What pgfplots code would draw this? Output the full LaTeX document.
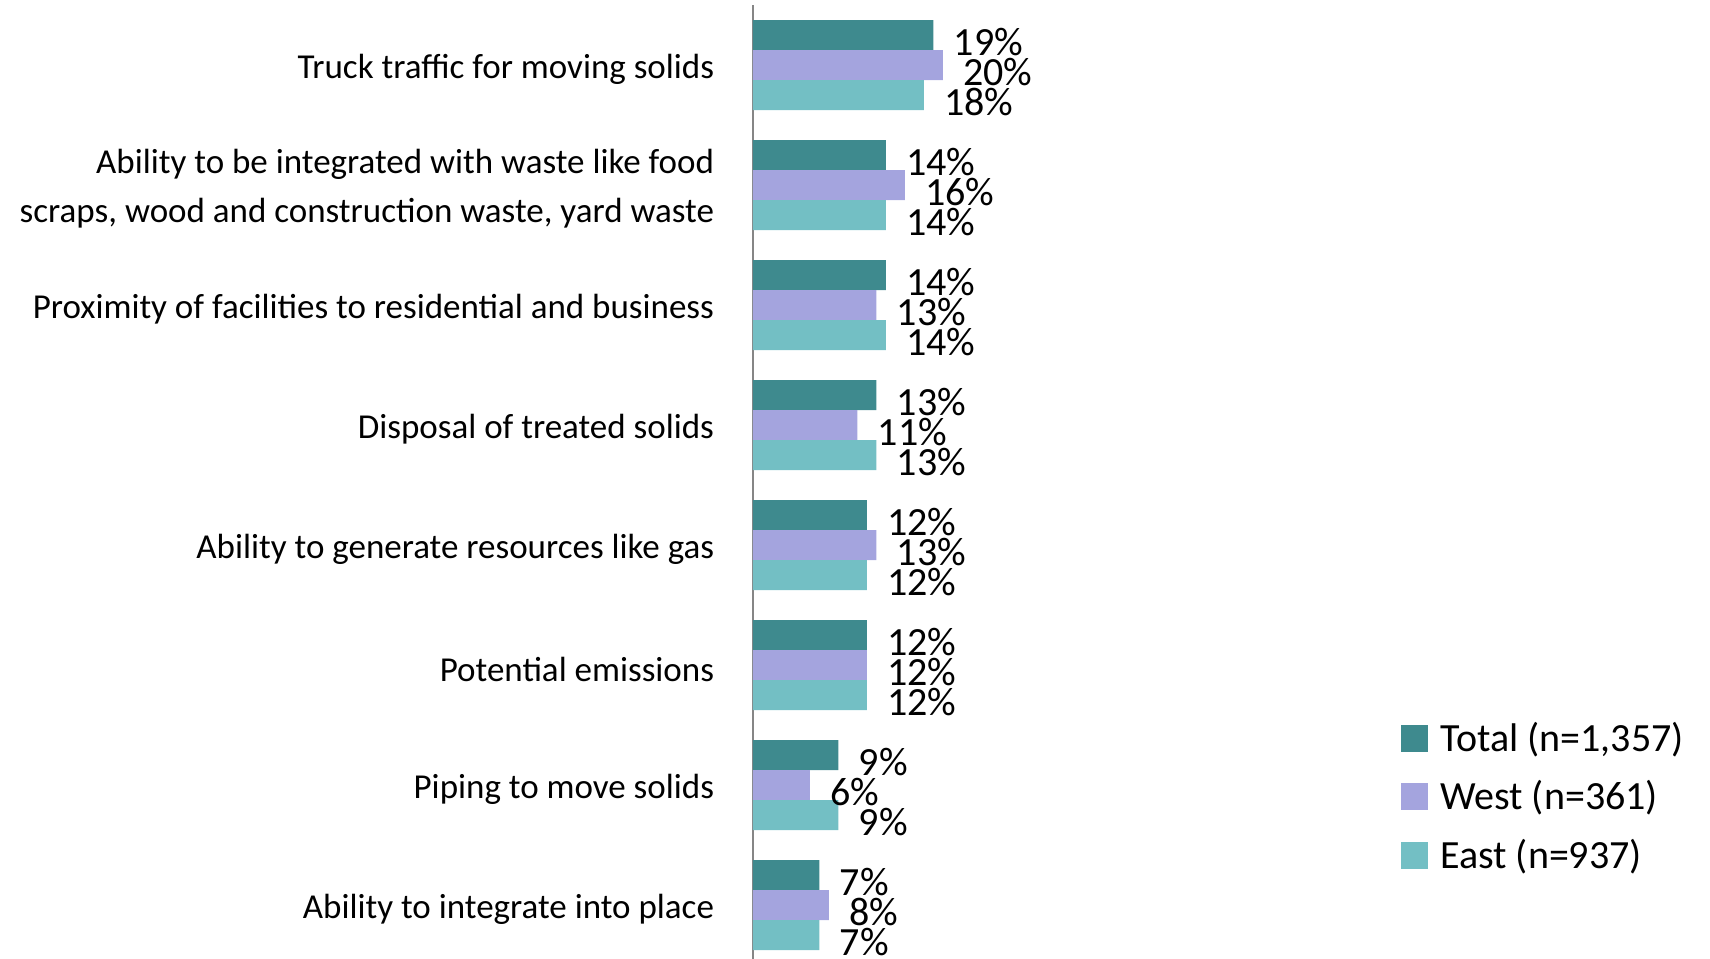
\documentclass[border=0pt]{standalone}
\usepackage{fontspec}
\setmainfont{Carlito}
\usepackage{pgfplots}
\pgfplotsset{compat=1.18}

\definecolor{cTotal}{HTML}{3E8A8E}
\definecolor{cWest}{HTML}{A4A4DE}
\definecolor{cEast}{HTML}{73BFC4}

\pgfplotsset{
  sq legend/.style={legend image code/.code={%
    \fill[##1] (0pt,-6.75pt) rectangle (13.5pt,6.75pt);}},
}

\begin{document}
\begin{tikzpicture}
\path[use as bounding box] (0,0) rectangle (855pt,479.5pt);
\begin{axis}[
    at={(376.5pt,477pt)}, anchor=north west,
    x=4.75pt, y=60pt,
    xmin=0, xmax=22,
    ymin=-0.5, ymax=7.45,
    y dir=reverse,
    xbar=0pt,
    bar width=15pt,
    clip=false,
    axis x line=none,
    axis y line*=left,
    y axis line style={draw=gray!95, line width=1pt, -},
    ytick={0,...,7},
    ytick style={draw=none},
    yticklabels={
      Truck traffic for moving solids,
      {Ability to be integrated with waste like food\\scraps, wood and construction waste, yard waste},
      Proximity of facilities to residential and business,
      Disposal of treated solids,
      Ability to generate resources like gas,
      Potential emissions,
      Piping to move solids,
      Ability to integrate into place},
    yticklabel style={align=right, inner sep=0pt, xshift=-15pt, yshift=-2pt,
      font=\fontsize{17.5}{24.5}\selectfont},
    /pgf/number format/assume math mode=true,
    point meta=x,
    nodes near coords={\pgfmathprintnumber{\pgfplotspointmeta}\%},
    nodes near coords style={anchor=west, inner sep=0pt, xshift=10pt, yshift=-3.5pt,
      font=\fontsize{20}{22}\selectfont},
    legend style={draw=none, fill=none, at={(3.10,0.2526)}, anchor=north west,
      inner sep=0pt, row sep=9pt, font=\fontsize{20}{22}\selectfont,
      /tikz/every odd column/.append style={column sep=4pt}},
    legend cell align=left,
]
\addplot[fill=cTotal, draw=none, bar shift=15pt, sq legend] coordinates {
  (19,0) (14,1) (14,2) (13,3) (12,4) (12,5) (9,6) (7,7)};
\addplot[fill=cWest, draw=none, bar shift=0pt, sq legend] coordinates {
  (20,0) (16,1) (13,2) (11,3) (13,4) (12,5) (6,6) (8,7)};
\addplot[fill=cEast, draw=none, bar shift=-15pt, sq legend] coordinates {
  (18,0) (14,1) (14,2) (13,3) (12,4) (12,5) (9,6) (7,7)};
\legend{{Total (n=1,357)}, {West (n=361)}, {East (n=937)}}
\end{axis}
\end{tikzpicture}
\end{document}
